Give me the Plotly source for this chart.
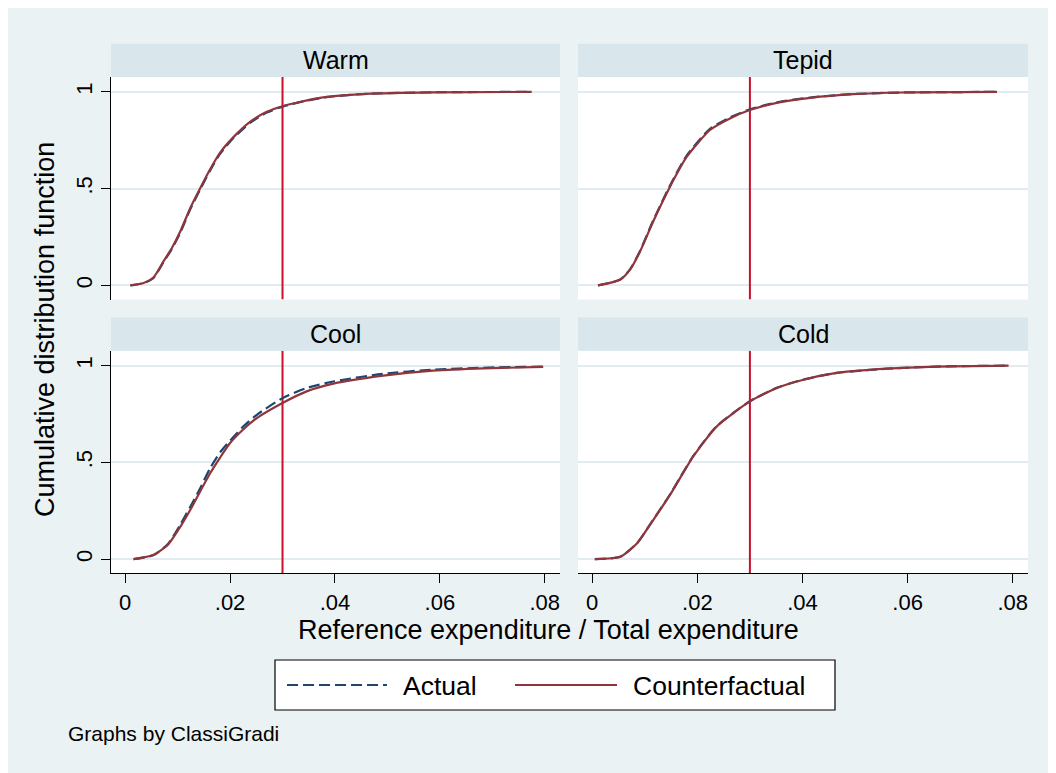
import plotly.graph_objects as go

# ---------------- data ----------------
PANELS = ["Warm", "Tepid", "Cool", "Cold"]
SERIES = ["Actual", "Counterfactual"]
X_TICKS = [0, 0.02, 0.04, 0.06, 0.08]
X_TICK_LABELS = ["0", ".02", ".04", ".06", ".08"]
Y_TICKS = [0, 0.5, 1]
Y_TICK_LABELS = ["0", ".5", "1"]
REF_LINE = 0.03

warm_x = [0.001, 0.0035, 0.0054, 0.0073, 0.0089, 0.0105, 0.0124, 0.0143, 0.0162, 0.0181,
          0.0206, 0.0238, 0.027, 0.030, 0.0333, 0.0384, 0.046, 0.0587, 0.0775]
warm_actual = [0, 0.011, 0.039, 0.120, 0.188, 0.272, 0.393, 0.496, 0.594, 0.680,
               0.760, 0.840, 0.893, 0.924, 0.947, 0.973, 0.990, 0.998, 1.0]
warm_cf = [0, 0.012, 0.041, 0.124, 0.193, 0.278, 0.399, 0.502, 0.600, 0.686,
           0.765, 0.845, 0.897, 0.926, 0.948, 0.974, 0.990, 0.998, 1.0]

tepid_x = [0.0011, 0.0053, 0.0072, 0.0091, 0.0116, 0.0148, 0.018, 0.0224, 0.0262, 0.030,
           0.0351, 0.0415, 0.0497, 0.0592, 0.077]
tepid_actual = [0, 0.030, 0.083, 0.178, 0.335, 0.516, 0.672, 0.809, 0.868, 0.910,
                0.946, 0.971, 0.989, 0.997, 1.0]
tepid_cf = [0, 0.029, 0.081, 0.175, 0.330, 0.510, 0.665, 0.803, 0.863, 0.906,
            0.943, 0.969, 0.988, 0.997, 1.0]

cool_x = [0.0016, 0.0054, 0.0082, 0.0105, 0.0124, 0.0143, 0.0162, 0.0181, 0.020, 0.0225,
          0.0251, 0.030, 0.0346, 0.0397, 0.0492, 0.0587, 0.0683, 0.0797]
cool_actual = [0, 0.021, 0.080, 0.178, 0.270, 0.366, 0.470, 0.552, 0.612, 0.685,
               0.746, 0.832, 0.884, 0.918, 0.958, 0.979, 0.989, 0.995]
cool_cf = [0, 0.021, 0.076, 0.167, 0.254, 0.350, 0.444, 0.525, 0.600, 0.670,
           0.729, 0.807, 0.867, 0.907, 0.948, 0.974, 0.986, 0.993]

cold_x = [0.0005, 0.0053, 0.0085, 0.0116, 0.0148, 0.0192, 0.0237, 0.030, 0.0351, 0.0402,
          0.0465, 0.0561, 0.0656, 0.0792]
cold_actual = [0, 0.012, 0.082, 0.204, 0.334, 0.532, 0.688, 0.816, 0.885, 0.928,
               0.962, 0.984, 0.995, 1.0]
cold_cf = [0, 0.012, 0.081, 0.202, 0.332, 0.530, 0.686, 0.815, 0.884, 0.927,
           0.962, 0.984, 0.995, 1.0]

DATA = {
    "Warm": (warm_x, warm_actual, warm_cf),
    "Tepid": (tepid_x, tepid_actual, tepid_cf),
    "Cool": (cool_x, cool_actual, cool_cf),
    "Cold": (cold_x, cold_actual, cold_cf),
}

# ---------------- style / layout ----------------
W, H = 1056, 773
OFF = 8  # page body margin offsets the figure by 8px
FONT = "Liberation Sans, Arial, Helvetica, sans-serif"
BG = "#EAF2F3"
STRIP = "#D9E6EB"
GRID = "#E2EBEF"
NAVY = "#1A476F"
MAROON = "#90353B"
RED = "#C8102E"
X_RANGE = [-0.0027, 0.0829]
Y_RANGE = [-0.073, 1.077]


def fx(p):
    return (p - OFF) / W


def fy(p):
    return 1 - (p - OFF) / H


# pixel boxes (screen coords) of plot regions (left, right, top, bottom)
BOXES = {
    "Warm": (111, 560, 77, 299.5),
    "Tepid": (578, 1028, 77, 299.5),
    "Cool": (111, 560, 350.7, 573.3),
    "Cold": (578, 1028, 350.7, 573.3),
}
STRIP_H = 33.3

fig = go.Figure()
layout = dict(
    width=W, height=H,
    margin=dict(l=0, r=0, t=0, b=0),
    paper_bgcolor=BG,
    plot_bgcolor="white",
    showlegend=False,
    font=dict(family=FONT, color="black"),
)
shapes = []
annotations = []

for i, name in enumerate(PANELS):
    k = i + 1
    sfx = "" if k == 1 else str(k)
    l, r, t, b = BOXES[name]
    left = name in ("Warm", "Cool")
    bottom = name in ("Cool", "Cold")
    layout["xaxis" + sfx] = dict(
        domain=[fx(l), fx(r)], range=X_RANGE, anchor="y" + sfx,
        tickvals=X_TICKS, ticktext=X_TICK_LABELS,
        showticklabels=bottom, ticks="outside" if bottom else "",
        ticklen=9, tickwidth=1.2, tickcolor="black",
        showline=bottom, linecolor="black", linewidth=1.2,
        showgrid=False, zeroline=False,
        tickfont=dict(size=22, family=FONT, color="black"),
    )
    layout["yaxis" + sfx] = dict(
        domain=[fy(b), fy(t)], range=Y_RANGE, anchor="x" + sfx,
        tickvals=Y_TICKS, ticktext=Y_TICK_LABELS,
        showticklabels=left, ticks="outside" if left else "",
        ticklen=9, tickwidth=1.2, tickcolor="black", tickangle=-90,
        showline=left, linecolor="black", linewidth=1.2,
        showgrid=True, gridcolor=GRID, gridwidth=2, zeroline=False,
        tickfont=dict(size=22, family=FONT, color="black"),
    )
    xs, ya, yc = DATA[name]
    xa, yaref = "x" + sfx, "y" + sfx
    fig.add_trace(go.Scatter(x=[REF_LINE, REF_LINE], y=Y_RANGE, mode="lines",
                             line=dict(color=RED, width=2), xaxis=xa, yaxis=yaref,
                             hoverinfo="skip"))
    fig.add_trace(go.Scatter(x=xs, y=ya, mode="lines", name=SERIES[0],
                             line=dict(color=NAVY, width=2.2, dash="11px,5px",
                                       shape="spline", smoothing=0.6),
                             xaxis=xa, yaxis=yaref))
    fig.add_trace(go.Scatter(x=xs, y=yc, mode="lines", name=SERIES[1],
                             line=dict(color=MAROON, width=2.2, shape="spline", smoothing=0.6),
                             xaxis=xa, yaxis=yaref))
    # strip
    shapes.append(dict(type="rect", xref="paper", yref="paper",
                       x0=fx(l), x1=fx(r), y0=fy(t), y1=fy(t - STRIP_H),
                       fillcolor=STRIP, line=dict(width=0), layer="below"))
    annotations.append(dict(text=name, xref="paper", yref="paper",
                            x=fx((l + r) / 2), y=fy(t - STRIP_H / 2),
                            xanchor="center", yanchor="middle", showarrow=False,
                            font=dict(size=25, family=FONT, color="black")))

# axis titles and note
annotations.append(dict(text="Cumulative distribution function", xref="paper", yref="paper",
                        x=fx(45), y=fy(330), textangle=-90, xanchor="center", yanchor="middle",
                        showarrow=False, font=dict(size=27, family=FONT, color="black")))
annotations.append(dict(text="Reference expenditure / Total expenditure", xref="paper",
                        yref="paper", x=fx(548), y=fy(630), xanchor="center", yanchor="middle",
                        showarrow=False, font=dict(size=27, family=FONT, color="black")))
annotations.append(dict(text="Graphs by ClassiGradi", xref="paper", yref="paper",
                        x=fx(66), y=fy(733), xanchor="left", yanchor="middle",
                        showarrow=False, font=dict(size=21, family=FONT, color="black")))

# legend (drawn manually to match the boxed Stata legend)
shapes.append(dict(type="rect", xref="paper", yref="paper", x0=fx(275), x1=fx(835),
                   y0=fy(710), y1=fy(660), fillcolor="white",
                   line=dict(color="black", width=1.2)))
shapes.append(dict(type="line", xref="paper", yref="paper", x0=fx(287), x1=fx(387),
                   y0=fy(685), y1=fy(685), line=dict(color=NAVY, width=2.2, dash="11px,5px")))
shapes.append(dict(type="line", xref="paper", yref="paper", x0=fx(515), x1=fx(617),
                   y0=fy(685), y1=fy(685), line=dict(color=MAROON, width=2.2)))
annotations.append(dict(text=SERIES[0], xref="paper", yref="paper", x=fx(401), y=fy(686),
                        xanchor="left", yanchor="middle", showarrow=False,
                        font=dict(size=26.5, family=FONT, color="black")))
annotations.append(dict(text=SERIES[1], xref="paper", yref="paper", x=fx(631), y=fy(686),
                        xanchor="left", yanchor="middle", showarrow=False,
                        font=dict(size=26.5, family=FONT, color="black")))

layout["shapes"] = shapes
layout["annotations"] = annotations
fig.update_layout(**layout)
fig.write_html("out.html")
